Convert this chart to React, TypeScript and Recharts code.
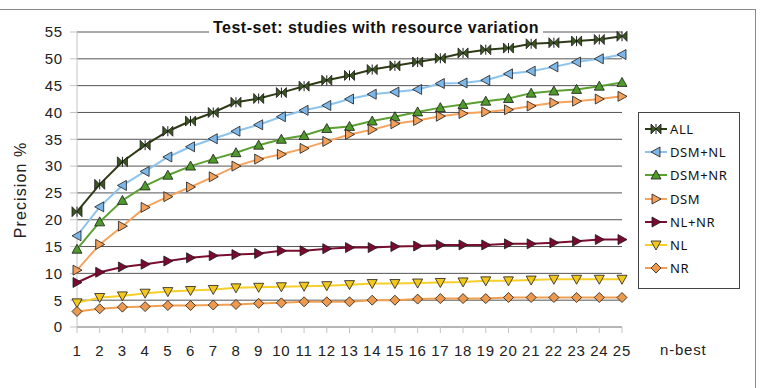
import { LineChart, Line, XAxis, YAxis, CartesianGrid } from 'recharts';

const nBest = ['1', '2', '3', '4', '5', '6', '7', '8', '9', '10', '11', '12', '13', '14', '15', '16', '17', '18', '19', '20', '21', '22', '23', '24', '25'];

const all = [21.5, 26.6, 30.8, 33.9, 36.5, 38.4, 40.0, 41.9, 42.6, 43.7, 44.9, 46.0, 46.9, 48.0, 48.7, 49.4, 50.1, 51.1, 51.7, 52.0, 52.8, 53.0, 53.3, 53.6, 54.2];
const dsmNl = [17.0, 22.4, 26.4, 29.0, 31.7, 33.6, 35.1, 36.5, 37.7, 39.2, 40.4, 41.3, 42.5, 43.4, 43.8, 44.3, 45.4, 45.5, 46.0, 47.2, 47.7, 48.5, 49.4, 50.0, 50.8];
const dsmNr = [14.5, 19.6, 23.6, 26.3, 28.3, 30.0, 31.3, 32.5, 33.9, 35.0, 35.7, 37.0, 37.4, 38.4, 39.2, 40.1, 40.9, 41.5, 42.1, 42.6, 43.6, 44.0, 44.3, 44.9, 45.6];
const dsm = [10.6, 15.4, 18.8, 22.3, 24.3, 26.1, 28.0, 30.0, 31.3, 32.2, 33.3, 34.6, 35.9, 36.8, 37.9, 38.5, 39.3, 39.8, 40.1, 40.5, 41.2, 41.8, 42.1, 42.5, 43.0];
const nlNr = [8.3, 10.2, 11.2, 11.7, 12.3, 12.9, 13.3, 13.5, 13.7, 14.2, 14.2, 14.6, 14.8, 14.8, 15.0, 15.1, 15.3, 15.3, 15.3, 15.5, 15.5, 15.7, 16.0, 16.3, 16.3];
const nl = [4.5, 5.5, 5.8, 6.3, 6.6, 6.8, 7.0, 7.3, 7.4, 7.5, 7.6, 7.7, 7.9, 8.1, 8.1, 8.2, 8.3, 8.4, 8.6, 8.6, 8.75, 8.9, 8.9, 8.9, 8.9];
const nr = [2.9, 3.4, 3.7, 3.8, 4.0, 4.0, 4.1, 4.2, 4.4, 4.5, 4.7, 4.7, 4.7, 5.0, 5.0, 5.2, 5.3, 5.3, 5.3, 5.5, 5.5, 5.5, 5.5, 5.5, 5.5];

const yTicks = [0, 5, 10, 15, 20, 25, 30, 35, 40, 45, 50, 55];

const series = [
  { key: 'ALL', values: all, line: '#2f3b17', fill: '#3b5520', shape: 'bowtie' },
  { key: 'DSM+NL', values: dsmNl, line: '#8cc4ee', fill: '#7db7e8', shape: 'left' },
  { key: 'DSM+NR', values: dsmNr, line: '#5ca032', fill: '#4e9a2a', shape: 'up' },
  { key: 'DSM', values: dsm, line: '#f5a35e', fill: '#f2a05a', shape: 'right' },
  { key: 'NL+NR', values: nlNr, line: '#7a0e2e', fill: '#7a0a30', shape: 'right' },
  { key: 'NL', values: nl, line: '#f6cf2a', fill: '#f2c81e', shape: 'down' },
  { key: 'NR', values: nr, line: '#f0a050', fill: '#ee9a4e', shape: 'diamond' },
];

const data = nBest.map((n, i) => {
  const row: any = { n };
  series.forEach((s) => { row[s.key] = s.values[i]; });
  return row;
});

const FONT = 'Arial, "Liberation Sans", sans-serif';

function marker(shape: string, x: number, y: number, fill: string, key?: any) {
  const common = { fill, stroke: '#1a1a1a', strokeWidth: 0.8 };
  if (shape === 'bowtie') {
    return (
      <g key={key}>
        <polygon points={`${x - 5},${y - 5} ${x},${y} ${x - 5},${y + 5}`} {...common} />
        <polygon points={`${x + 5},${y - 5} ${x},${y} ${x + 5},${y + 5}`} {...common} />
        <line x1={x} y1={y - 5} x2={x} y2={y + 5} stroke="#1a1a1a" strokeWidth={1} />
      </g>
    );
  }
  let pts = '';
  if (shape === 'left') pts = `${x - 5},${y} ${x + 4},${y - 5} ${x + 4},${y + 5}`;
  if (shape === 'right') pts = `${x + 5},${y} ${x - 4},${y - 5} ${x - 4},${y + 5}`;
  if (shape === 'up') pts = `${x},${y - 5} ${x + 5},${y + 4} ${x - 5},${y + 4}`;
  if (shape === 'down') pts = `${x},${y + 5} ${x - 5},${y - 4} ${x + 5},${y - 4}`;
  if (shape === 'diamond') pts = `${x},${y - 5} ${x + 5},${y} ${x},${y + 5} ${x - 5},${y}`;
  return <polygon key={key} points={pts} {...common} />;
}

const LegendBox = () => (
  <div
    style={{
      position: 'absolute',
      left: 638,
      top: 112,
      border: '1px solid #444',
      background: '#fff',
      width: 102,
      height: 177,
      boxSizing: 'border-box',
      padding: '4px 0 0 6px',
      fontFamily: '"Noto Sans", sans-serif',
      fontSize: 13,
      letterSpacing: 0.6,
      color: '#111',
    }}
  >
    {series.map((s) => (
      <div key={s.key} style={{ display: 'flex', alignItems: 'center', height: 23.3 }}>
        <svg width={24} height={12} style={{ marginRight: 1 }}>
          <line x1={0} y1={6} x2={22} y2={6} stroke={s.line} strokeWidth={2} />
          {marker(s.shape, 11, 6, s.fill)}
        </svg>
        <span>{s.key}</span>
      </div>
    ))}
  </div>
);

export default function App() {
  return (
    <div style={{ position: 'absolute', left: 0, top: 0, width: 761, height: 388, background: '#fff', overflow: 'hidden' }}>
      <div
        style={{
          position: 'absolute',
          left: -1,
          top: 9,
          width: 756,
          height: 400,
          borderTop: '1px solid #8a8a8a',
          borderRight: '1px solid #8a8a8a',
        }}
      />
      <LineChart width={761} height={388} data={data} margin={{ top: 32, right: 139, bottom: 31, left: 37 }}>
        <CartesianGrid vertical={false} stroke="#555" />
        <XAxis
          dataKey="n"
          interval={0}
          height={30}
          tickSize={6}
          tickMargin={12}
          axisLine={{ stroke: '#c4c4c4' }}
          tickLine={{ stroke: '#c4c4c4' }}
          tick={{ fontSize: 15, fill: '#222', fontFamily: FONT, letterSpacing: 0.8 }}
        />
        <YAxis
          domain={[0, 55]}
          ticks={yTicks}
          interval={0}
          width={40}
          tickSize={7}
          tickMargin={7}
          axisLine={{ stroke: '#c4c4c4' }}
          tickLine={{ stroke: '#c4c4c4' }}
          tick={{ fontSize: 15, fill: '#222', fontFamily: FONT, letterSpacing: 0.8 }}
        />
        {series.map((s) => (
          <Line
            key={s.key}
            dataKey={s.key}
            stroke={s.line}
            strokeWidth={2}
            isAnimationActive={false}
            dot={(p: any) => marker(s.shape, p.cx, p.cy, s.fill, `${s.key}-${p.index}`)}
            activeDot={false}
          />
        ))}
      </LineChart>
      <LegendBox />
      <div
        style={{
          position: 'absolute',
          left: 209,
          top: 19,
          width: 334,
          height: 18,
          lineHeight: '18px',
          textAlign: 'center',
          background: '#fff',
          fontFamily: FONT,
          fontWeight: 'bold',
          fontSize: 16,
          letterSpacing: 0.5,
          color: '#111',
        }}
      >
        Test-set: studies with resource variation
      </div>
      <div
        style={{
          position: 'absolute',
          left: -39,
          top: 181,
          width: 120,
          height: 18,
          lineHeight: '18px',
          textAlign: 'center',
          transform: 'rotate(-90deg)',
          fontFamily: FONT,
          fontSize: 16,
          letterSpacing: 1.1,
          color: '#222',
        }}
      >
        Precision %
      </div>
      <div
        style={{
          position: 'absolute',
          left: 660,
          top: 341,
          lineHeight: '17px',
          fontFamily: FONT,
          fontSize: 15,
          letterSpacing: 0.8,
          color: '#222',
        }}
      >
        n-best
      </div>
    </div>
  );
}
